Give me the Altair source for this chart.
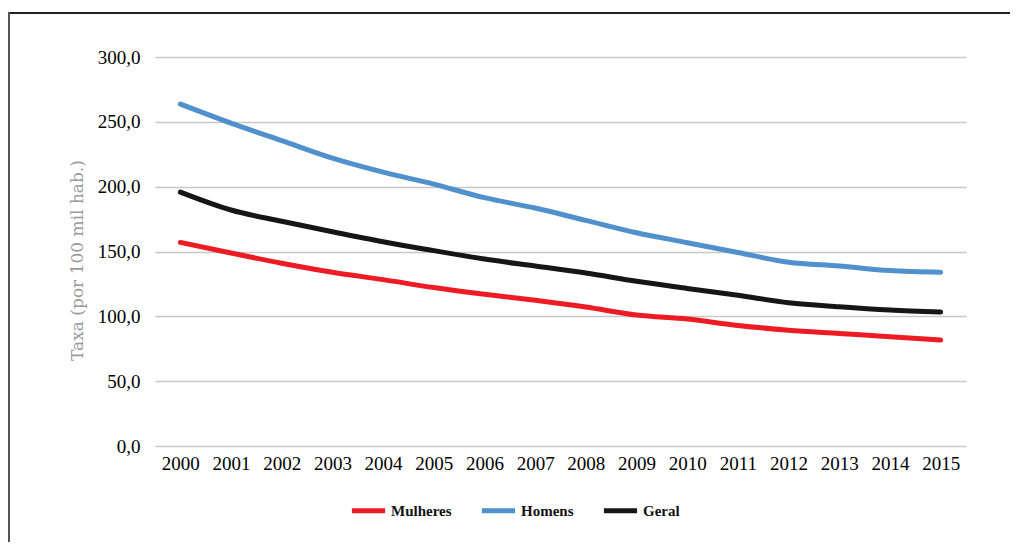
import altair as alt
import pandas as pd

years = [str(y) for y in range(2000, 2016)]
mulheres = [157.0, 148.8, 141.0, 134.0, 128.3, 122.2, 117.0, 112.4, 107.2, 101.0, 97.9, 93.0, 89.3, 86.8, 84.3, 81.7]
homens = [263.7, 249.0, 235.5, 222.0, 211.2, 202.0, 191.5, 183.5, 174.0, 164.5, 156.8, 149.2, 141.7, 138.8, 135.3, 134.0]
geral = [195.8, 182.0, 173.3, 165.2, 157.5, 150.7, 144.2, 138.8, 133.4, 127.0, 121.5, 116.2, 110.5, 107.4, 104.9, 103.3]

series = ["Mulheres", "Homens", "Geral"]
colors = ["#ED1C24", "#4F90CD", "#161616"]

rows = []
for name, vals in zip(series, [mulheres, homens, geral]):
    for y, v in zip(years, vals):
        rows.append({"Ano": y, "Taxa": v, "Série": name})
df = pd.DataFrame(rows)

FONT = "Liberation Serif"

lines = alt.Chart(df).mark_line(strokeWidth=5, strokeCap="round", interpolate="monotone").encode(
    x=alt.X("Ano:O", sort=years, scale=alt.Scale(type="point", padding=0.5),
            axis=alt.Axis(title=None, labelAngle=0, domain=False, ticks=False, grid=False,
                          labelFont=FONT, labelFontSize=19, labelColor="#000", labelPadding=8)),
    y=alt.Y("Taxa:Q", scale=alt.Scale(domain=[0, 300], nice=False),
            axis=alt.Axis(title="Taxa (por 100 mil hab.)", values=[0, 50, 100, 150, 200, 250, 300],
                          labelExpr="replace(format(datum.value, '.1f'), '.', ',')",
                          domain=False, ticks=False, grid=True, gridColor="#C8C8C8", gridWidth=1.5,
                          labelFont=FONT, labelFontSize=19, labelColor="#000", labelPadding=15,
                          titleFont="DejaVu Serif", titleFontSize=17, titleFontWeight="normal",
                          titleColor="#9A9A9A", titlePadding=11, titleY=203)),
    color=alt.Color("Série:N", sort=series, scale=alt.Scale(domain=series, range=colors),
                    legend=alt.Legend(title=None, orient="none", direction="horizontal",
                                      legendX=194, legendY=434, symbolType="stroke",
                                      symbolSize=1100, symbolStrokeWidth=5, columnPadding=19,
                                      labelFont=FONT, labelFontSize=15, labelFontWeight="bold",
                                      labelColor="#111", labelOffset=3)),
)

frame_top = alt.Chart(df).mark_rule(color="#222", strokeWidth=2).encode(
    x=alt.value(-146), x2=alt.value(860), y=alt.value(-44))
frame_left = alt.Chart(df).mark_rule(color="#555", strokeWidth=2).encode(
    x=alt.value(-146), y=alt.value(-45), y2=alt.value(500))

chart = alt.layer(frame_top, frame_left, lines).properties(
    width=811, height=389,
    autosize=alt.AutoSizeParams(type="none"),
    padding={"left": 147, "top": 49, "right": 44, "bottom": 96},
    background="white",
).configure_view(stroke=None)

chart.save("out.html", embed_options={"renderer": "svg", "actions": False})
